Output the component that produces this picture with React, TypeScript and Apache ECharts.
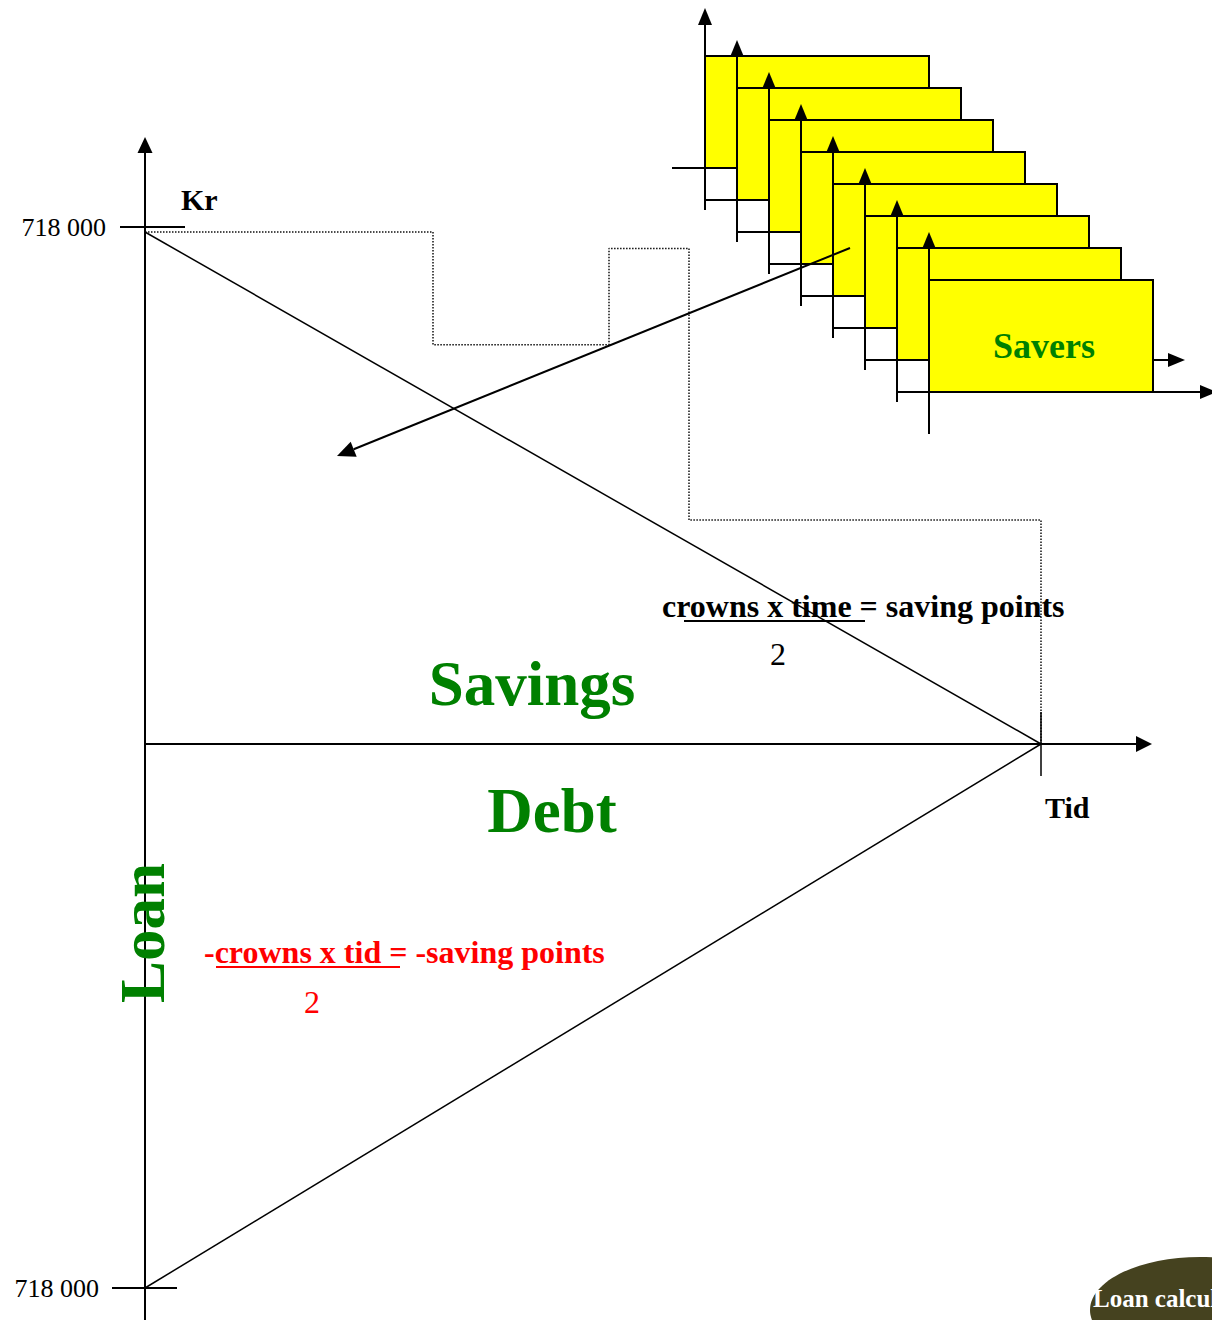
import React, { useEffect, useRef } from "react";
import * as echarts from "echarts";

// ---- data ----
const timeMax = 28; // time span (Tid)
const loanAmount = 718000; // Kr
const yTickLabels = ["718 000", "718 000"];
const savingsLine = [
  [0, loanAmount],
  [timeMax, 0],
];
const debtLine = [
  [0, -loanAmount],
  [timeMax, 0],
];
const balanceTimes = [0, 9, 9, 14.5, 14.5, 17, 17, 28, 28];
const balanceValues = [718000, 718000, 560000, 560000, 695000, 695000, 314000, 314000, 0];
const saverCount = 8;

const SERIF = '"Liberation Serif", "Times New Roman", serif';

function arrowHead(tip: number[], from: number[], len: number, half: number) {
  const dx = tip[0] - from[0];
  const dy = tip[1] - from[1];
  const d = Math.sqrt(dx * dx + dy * dy);
  const ux = dx / d;
  const uy = dy / d;
  const bx = tip[0] - ux * len;
  const by = tip[1] - uy * len;
  return [
    [tip[0], tip[1]],
    [bx - uy * half, by + ux * half],
    [bx + uy * half, by - ux * half],
  ];
}

function buildGraphic() {
  const g: any[] = [];
  const line = (x1: number, y1: number, x2: number, y2: number, w = 2, color = "#000") =>
    g.push({ type: "line", shape: { x1, y1, x2, y2 }, style: { stroke: color, lineWidth: w }, z: 10 });
  const poly = (pts: number[][], color = "#000") =>
    g.push({ type: "polygon", shape: { points: pts }, style: { fill: color }, z: 10 });
  const text = (t: string, x: number, y: number, font: string, fill: string, align = "left", rotation = 0) =>
    g.push({
      type: "text",
      x,
      y,
      rotation,
      z: 12,
      style: { text: t, font, fill, textAlign: align, textVerticalAlign: "middle" },
    });

  // main axes
  line(145, 1320, 145, 150, 2);
  poly(arrowHead([145, 137], [145, 300], 16, 7.5));
  line(145, 744, 1140, 744, 2);
  poly(arrowHead([1152, 744], [1000, 744], 16, 8));
  line(1041, 712, 1041, 776, 1.5);
  line(120, 227, 185, 227, 2);
  line(112, 1288, 177, 1288, 2);

  text(yTickLabels[0], 106, 227, `26px ${SERIF}`, "#000", "right");
  text(yTickLabels[1], 99, 1288, `26px ${SERIF}`, "#000", "right");
  text("Kr", 181, 199, `bold 30px ${SERIF}`, "#000");
  text("Tid", 1045, 807, `bold 30px ${SERIF}`, "#000");

  // savers stack
  for (let i = 0; i < saverCount; i++) {
    const L = 705 + 32 * i;
    const T = 56 + 32 * i;
    const W = 224;
    const H = 112;
    line(L, T - 36, L, T + H + 42, 2);
    poly(arrowHead([L, T - 48], [L, T + 50], 17, 7));
    line(L - 33, T + H, L + 276, T + H, 2);
    poly(arrowHead([L + 288, T + H], [L, T + H], 17, 7));
    g.push({
      type: "rect",
      shape: { x: L, y: T, width: W, height: H },
      style: { fill: "#FFFF00", stroke: "#000", lineWidth: 2 },
      z: 10,
    });
  }
  text("Savers", 1044, 346, `bold 36px ${SERIF}`, "#008000", "center");

  // big pointer arrow
  const aStart = [850, 248];
  const aTip = [337, 456];
  const head = arrowHead(aTip, aStart, 18, 8);
  const baseX = (head[1][0] + head[2][0]) / 2;
  const baseY = (head[1][1] + head[2][1]) / 2;
  line(aStart[0], aStart[1], baseX, baseY, 2);
  poly(head);

  // formulas
  text("crowns x time = saving points", 662, 606, `bold 32px ${SERIF}`, "#000");
  line(684, 621, 865, 621, 2);
  text("2", 778, 654, `32px ${SERIF}`, "#000", "center");

  text("-crowns x tid = -saving points", 204, 952, `bold 32px ${SERIF}`, "#FF0000");
  line(216, 967, 400, 967, 2, "#FF0000");
  text("2", 312, 1002, `32px ${SERIF}`, "#FF0000", "center");

  // big labels
  text("Savings", 532, 684, `bold 63px ${SERIF}`, "#008000", "center");
  text("Debt", 552, 811, `bold 63px ${SERIF}`, "#008000", "center");
  text("Loan", 143, 933, `bold 63px ${SERIF}`, "#008000", "center", Math.PI / 2);

  // loan calculator button
  g.push({
    type: "ellipse",
    shape: { cx: 1200, cy: 1310, rx: 110, ry: 53 },
    style: { fill: "#45421F" },
    z: 11,
  });
  text("Loan calculator", 1093, 1298, `bold 25px ${SERIF}`, "#FFFFFF");

  return g;
}

export default function App() {
  const ref = useRef<HTMLDivElement>(null);
  useEffect(() => {
    document.body.style.margin = "0";
    const chart = echarts.init(ref.current!, null, { renderer: "svg" });
    const balance = balanceTimes.map((t, i) => [t, balanceValues[i]]);
    chart.setOption({
      animation: false,
      backgroundColor: "#fff",
      grid: [
        { left: 145, top: 232, width: 896, height: 512 },
        { left: 145, top: 744, width: 896, height: 544 },
      ],
      xAxis: [
        { type: "value", gridIndex: 0, min: 0, max: timeMax, show: false },
        { type: "value", gridIndex: 1, min: 0, max: timeMax, show: false },
      ],
      yAxis: [
        { type: "value", gridIndex: 0, min: 0, max: loanAmount, show: false },
        { type: "value", gridIndex: 1, min: -loanAmount, max: 0, show: false },
      ],
      series: [
        {
          name: "Savings balance",
          type: "line",
          xAxisIndex: 0,
          yAxisIndex: 0,
          data: balance,
          symbol: "none",
          clip: false,
          lineStyle: { color: "#111", width: 1.5, type: [1.5, 1.5] },
        },
        {
          name: "Savings",
          type: "line",
          xAxisIndex: 0,
          yAxisIndex: 0,
          data: savingsLine,
          symbol: "none",
          clip: false,
          lineStyle: { color: "#000", width: 1.5 },
        },
        {
          name: "Debt",
          type: "line",
          xAxisIndex: 1,
          yAxisIndex: 1,
          data: debtLine,
          symbol: "none",
          clip: false,
          lineStyle: { color: "#000", width: 1.5 },
        },
      ],
      graphic: buildGraphic(),
    });
    return () => chart.dispose();
  }, []);
  return <div ref={ref} style={{ width: 1212, height: 1320, overflow: "hidden" }} />;
}
